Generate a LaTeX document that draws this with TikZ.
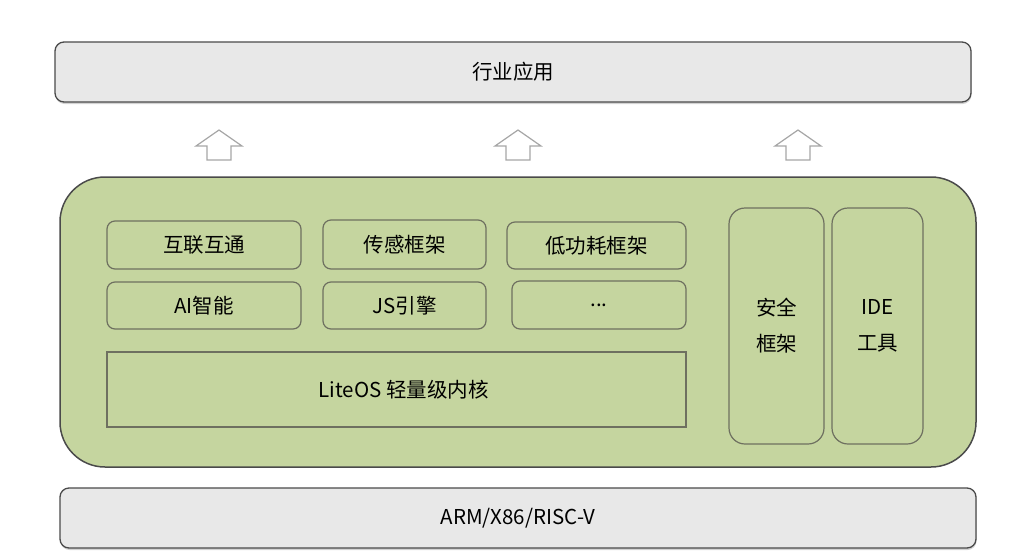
\documentclass[tikz,border=0pt]{standalone}
\usepackage{fontspec}
\setmainfont{Noto Sans CJK SC}
\usetikzlibrary{positioning, shadows}
\definecolor{layergray}{HTML}{E8E8E8}
\definecolor{osgreen}{HTML}{C5D59F}
\definecolor{lineframe}{HTML}{4A4A4A}
\definecolor{linemod}{HTML}{6E7060}
\newcommand{\upArrow}[1]{% hollow block arrow, #1 = centre
  \draw[gray!70, line width=1.2pt, fill=white, shift={#1}]
    (-12,15) -- (-12,1) -- (-23,1) -- (0,-15) -- (23,1) -- (12,1) -- (12,15) -- cycle;}

\begin{document}
\begin{tikzpicture}[
                x=1pt, y=-1pt,
                font=\fontsize{20.5}{36}\selectfont,
                layer/.style={draw=lineframe, line width=1.3pt, rounded corners=9pt, fill=layergray, minimum width=916pt, minimum height=60pt,
                              drop shadow={shadow xshift=0.5pt, shadow yshift=-2pt, opacity=0.35}},
                modbox/.style={draw=linemod, line width=1.2pt, rounded corners=8pt, fill=osgreen, align=center},
                sidebox/.style={modbox, rounded corners=16pt, minimum width=#1, minimum height=236pt},
            ]
            \useasboundingbox (0,0) rectangle (1012,555);
            % application layer
            \node[layer] (app) at (513,72) {行业应用};
            \upArrow{(219,145)}
            \upArrow{(518,145)}
            \upArrow{(798,145)}
            % OS layer
            \node[draw=lineframe, line width=1.5pt, rounded corners=45pt, fill=osgreen, minimum width=916pt, minimum height=290pt] (os) at (518,322) {};
            \node[modbox, minimum width=194pt, minimum height=48pt] (link) at (204,245) {互联互通};
            \node[modbox, minimum width=163pt, minimum height=49pt] (sensor) at (404.5,244.5) {传感框架};
            \node[modbox, minimum width=179pt, minimum height=47pt] (lowpower) at (596.5,245.5) {低功耗框架};
            \node[modbox, minimum width=194pt, minimum height=47pt] (ai) at (204,305.5) {AI智能};
            \node[modbox, minimum width=163pt, minimum height=47pt] (js) at (404.5,305.5) {JS引擎};
            \node[modbox, minimum width=174pt, minimum height=48pt] (more) at (599,305) {\raisebox{-4pt}{...}};
            \node[modbox, rounded corners=0pt, minimum width=579pt, minimum height=75pt] (kernel) at (396.5,389.5) {\hspace*{14pt}LiteOS 轻量级内核};
            \node[sidebox=95pt] (security) at (776.5,326) {安全\\框架};
            \node[sidebox=91pt] (ide) at (877.5,326) {IDE\\工具};
            % hardware layer
            \node[layer] (hw) at (518,518) {ARM/X86/RISC-V};
        \end{tikzpicture}
\end{document}
